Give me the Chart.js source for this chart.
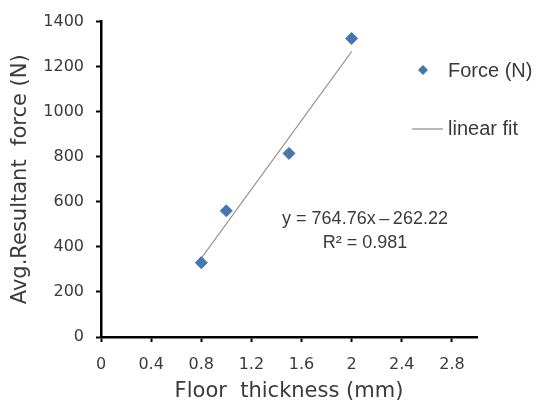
<html><head>
<meta charset="UTF-8">
<title>Avg. resultant force vs floor thickness</title>
<script src="https://cdn.jsdelivr.net/npm/chart.js"></script>
<style>
    body {
        margin: 0;
        background: #ffffff;
    }
    #forceChart {
        display: block;
    }
</style>
</head>
<body>
    <canvas id="forceChart" width="536" height="409"></canvas>

    <script>
        // measured points
        const thickness = [0.8, 1.0, 1.5, 2.0];
        const force = [330, 560, 815, 1325];

        // linear fit as reported on the chart
        const fitSlope = 764.76;
        const fitIntercept = -262.22;
        const fitR2 = 0.981;
        const fitRange = [0.8, 2.0];

        const xTicks = [0, 0.4, 0.8, 1.2, 1.6, 2, 2.4, 2.8];
        const yTicks = [0, 200, 400, 600, 800, 1000, 1200, 1400];

        const pointColor = '#4676ae';
        const fitColor = '#8a8a8a';
        const textColor = '#3a3a3a';

        const fitPoints = fitRange.map(x => ({ x: x, y: fitSlope * x + fitIntercept }));

        // legend on the right and the fit equation, drawn over the plot
        const annotations = {
            id: 'annotations',
            afterDraw(chart) {
                const c = chart.ctx;
                c.save();
                c.fillStyle = textColor;
                c.font = '20px "Liberation Sans", Arial, sans-serif';
                c.textBaseline = 'middle';
                c.textAlign = 'left';

                // Force (N)
                c.fillStyle = pointColor;
                c.beginPath();
                c.moveTo(423, 65);
                c.lineTo(428, 70);
                c.lineTo(423, 75);
                c.lineTo(418, 70);
                c.closePath();
                c.fill();
                c.fillStyle = textColor;
                c.fillText(chart.data.datasets[0].label, 448, 71);

                // linear fit
                c.strokeStyle = fitColor;
                c.lineWidth = 1.2;
                c.beginPath();
                c.moveTo(412, 129);
                c.lineTo(443, 129);
                c.stroke();
                c.fillText(chart.data.datasets[1].label, 448, 129);

                // equation
                c.font = '18px "Liberation Sans", Arial, sans-serif';
                c.textAlign = 'center';
                c.fillText('y = ' + fitSlope + 'x\u2009\u2013\u2009' + Math.abs(fitIntercept), 365, 219);
                c.fillText('R\u00b2 = ' + fitR2, 365, 243);
                c.restore();
            }
        };

        const ctx = document.getElementById('forceChart').getContext('2d');
        const chart = new Chart(ctx, {
            type: 'scatter',
            data: {
                datasets: [{
                    label: 'Force (N)',
                    data: thickness.map((x, i) => ({ x: x, y: force[i] })),
                    pointStyle: 'rectRot',
                    pointRadius: 6,
                    backgroundColor: pointColor,
                    borderColor: pointColor,
                    borderWidth: 1
                }, {
                    type: 'line',
                    label: 'linear fit',
                    data: fitPoints,
                    borderColor: fitColor,
                    borderWidth: 1.2,
                    pointRadius: 0,
                    fill: false
                }]
            },
            options: {
                responsive: false,
                animation: false,
                layout: {
                    padding: { top: 17, right: 59, left: 0, bottom: 0 }
                },
                plugins: {
                    legend: { display: false },
                    tooltip: { enabled: false }
                },
                scales: {
                    x: {
                        type: 'linear',
                        min: 0,
                        max: 3.0,
                        afterBuildTicks: axis => { axis.ticks = xTicks.map(v => ({ value: v })); },
                        afterFit: axis => { axis.height = 72; },
                        grid: {
                            drawOnChartArea: false,
                            color: '#000',
                            tickLength: 5,
                            tickWidth: 2
                        },
                        border: { color: '#000', width: 2.5 },
                        ticks: {
                            color: textColor,
                            padding: 13,
                            maxRotation: 0,
                            font: { family: '"DejaVu Sans", sans-serif', size: 16 },
                            callback: v => String(v)
                        },
                        title: {
                            display: true,
                            text: 'Floor  thickness (mm)',
                            color: textColor,
                            font: { family: '"DejaVu Sans", sans-serif', size: 21 },
                            padding: { top: 0, bottom: 5 }
                        }
                    },
                    y: {
                        min: 0,
                        max: 1400,
                        afterBuildTicks: axis => { axis.ticks = yTicks.map(v => ({ value: v })); },
                        afterFit: axis => { axis.width = 101; },
                        grid: {
                            drawOnChartArea: false,
                            color: '#000',
                            tickLength: 5,
                            tickWidth: 2
                        },
                        border: { color: '#000', width: 2.5 },
                        ticks: {
                            color: textColor,
                            padding: 12,
                            font: { family: '"DejaVu Sans", sans-serif', size: 16 },
                            callback: v => String(v)
                        },
                        title: {
                            display: true,
                            text: 'Avg.Resultant  force (N)',
                            color: textColor,
                            font: { family: '"DejaVu Sans", sans-serif', size: 21 },
                            padding: { top: 8, bottom: 0 }
                        }
                    }
                }
            },
            plugins: [annotations]
        });
    </script>
</body>
</html>
